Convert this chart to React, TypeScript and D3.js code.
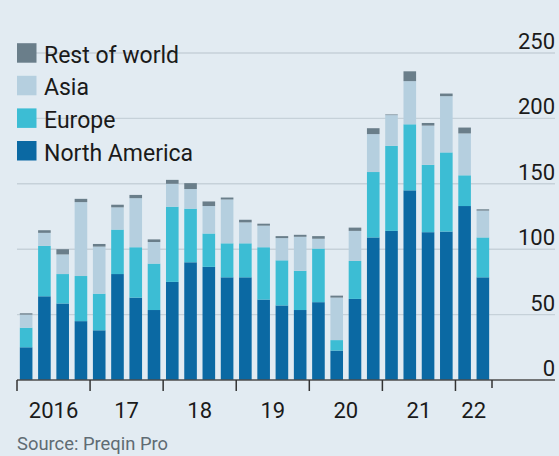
import React from "react";
import * as d3 from "d3";

// quarterly values
const quarters = [
  "2016Q1", "2016Q2", "2016Q3", "2016Q4",
  "2017Q1", "2017Q2", "2017Q3", "2017Q4",
  "2018Q1", "2018Q2", "2018Q3", "2018Q4",
  "2019Q1", "2019Q2", "2019Q3", "2019Q4",
  "2020Q1", "2020Q2", "2020Q3", "2020Q4",
  "2021Q1", "2021Q2", "2021Q3", "2021Q4",
  "2022Q1", "2022Q2"
];
const northAmerica = [25, 64, 58.5, 45, 38, 81, 63, 53.5, 75, 90, 86.5, 78.5, 78.5, 61.5, 57, 53.5, 59.5, 22.5, 62, 109, 114, 145, 113, 113.5, 133, 78.5];
const europe = [15, 38.5, 22.5, 34.5, 28, 34, 38.5, 35.5, 57.5, 41, 25.5, 26, 26, 40, 34.5, 30, 41, 8, 29, 50, 65, 50.5, 51.5, 60.5, 23.5, 30.5];
const asia = [10, 10, 15, 56.5, 36, 17, 37.5, 16.5, 17.5, 15, 21, 33.5, 16, 16.5, 17, 26, 7.5, 32.5, 23, 29, 23.5, 33, 30, 43, 32, 20.5];
const restOfWorld = [1, 2, 4, 2.5, 2, 2, 2.5, 2, 3, 4.5, 3.5, 1.5, 2, 1.5, 1.5, 1.5, 2, 1.5, 2.5, 4.5, 0.5, 7.5, 2, 2, 4.5, 1];

const yearLabels = ["2016", "17", "18", "19", "20", "21", "22"];
const yearStarts = ["2016Q1", "2017Q1", "2018Q1", "2019Q1", "2020Q1", "2021Q1", "2022Q1"];
const yTicks = [0, 50, 100, 150, 200, 250];

const keys = ["na", "eu", "asia", "row"];
const legendNames = ["Rest of world", "Asia", "Europe", "North America"];
const legendKeys = ["row", "asia", "eu", "na"];
const colors: Record<string, string> = {
  na: "#0b69a3",
  eu: "#3cbdd4",
  asia: "#b5cfdf",
  row: "#6a7e8a"
};

const W = 559;
const H = 456;
const FONT = "Roboto, 'Open Sans', sans-serif";

export default function App() {
  const rows = quarters.map((q, i) => ({
    q,
    na: northAmerica[i],
    eu: europe[i],
    asia: asia[i],
    row: restOfWorld[i]
  }));
  const series = d3.stack<any>().keys(keys)(rows);

  const pad = 0.31;
  const x = d3.scaleBand().domain(quarters).range([17, 492]).paddingInner(pad).paddingOuter(pad / 2);
  const y = d3.scaleLinear().domain([0, 250]).range([380, 53]);
  const half = (x.step() * pad) / 2;

  const tickXs = yearStarts.map(q => (x(q) as number) - half);
  const endX = (x(quarters[quarters.length - 1]) as number) + x.bandwidth() + half;
  const bounds = [...tickXs, endX];

  return (
    <div style={{ position: "absolute", left: 0, top: 0, width: W, height: H }}>
      <svg width={W} height={H} style={{ display: "block" }}>
        <rect width={W} height={H} fill="#e2ebf2" />

        {/* gridlines */}
        {yTicks.filter(t => t > 0).map(t => (
          <line key={t} x1={17} x2={555} y1={y(t)} y2={y(t)} stroke="#c6d1d9" strokeWidth={1.4} />
        ))}
        {yTicks.map(t => (
          <text key={"l" + t} x={555} y={y(t) - 4} textAnchor="end" fontFamily={FONT} fontSize={22} fill="#1a1a1a">
            {t}
          </text>
        ))}

        {/* bars */}
        {series.map(s => (
          <g key={s.key} fill={colors[s.key]}>
            {s.map((d, i) => (
              <rect
                key={i}
                x={x(quarters[i])}
                width={x.bandwidth()}
                y={y(d[1])}
                height={Math.max(0, y(d[0]) - y(d[1]))}
              />
            ))}
          </g>
        ))}

        {/* x axis */}
        <line x1={17} x2={555} y1={380} y2={380} stroke="#4d4d4d" strokeWidth={1.5} />
        {bounds.map((bx, i) => (
          <line key={"t" + i} x1={bx} x2={bx} y1={380} y2={i === bounds.length - 1 ? 388 : 391} stroke="#333" strokeWidth={1.5} />
        ))}
        {yearLabels.map((lab, i) => (
          <text key={lab} x={(bounds[i] + bounds[i + 1]) / 2} y={418} textAnchor="middle" fontFamily={FONT} fontSize={22} fill="#1a1a1a">
            {lab}
          </text>
        ))}

        {/* legend */}
        {legendKeys.map((k, i) => {
          const base = 62.7 + i * 32.6;
          return (
            <g key={k}>
              <rect x={17} y={base - 19.5} width={19.5} height={19.5} fill={colors[k]} />
              <text x={44} y={base} fontFamily={FONT} fontSize={23} fill="#1a1a1a">
                {legendNames[i]}
              </text>
            </g>
          );
        })}

        <text x={17} y={450} fontFamily={FONT} fontSize={19} fill="#606b73" textLength={151} lengthAdjust="spacingAndGlyphs">
          Source: Preqin Pro
        </text>
      </svg>
    </div>
  );
}
